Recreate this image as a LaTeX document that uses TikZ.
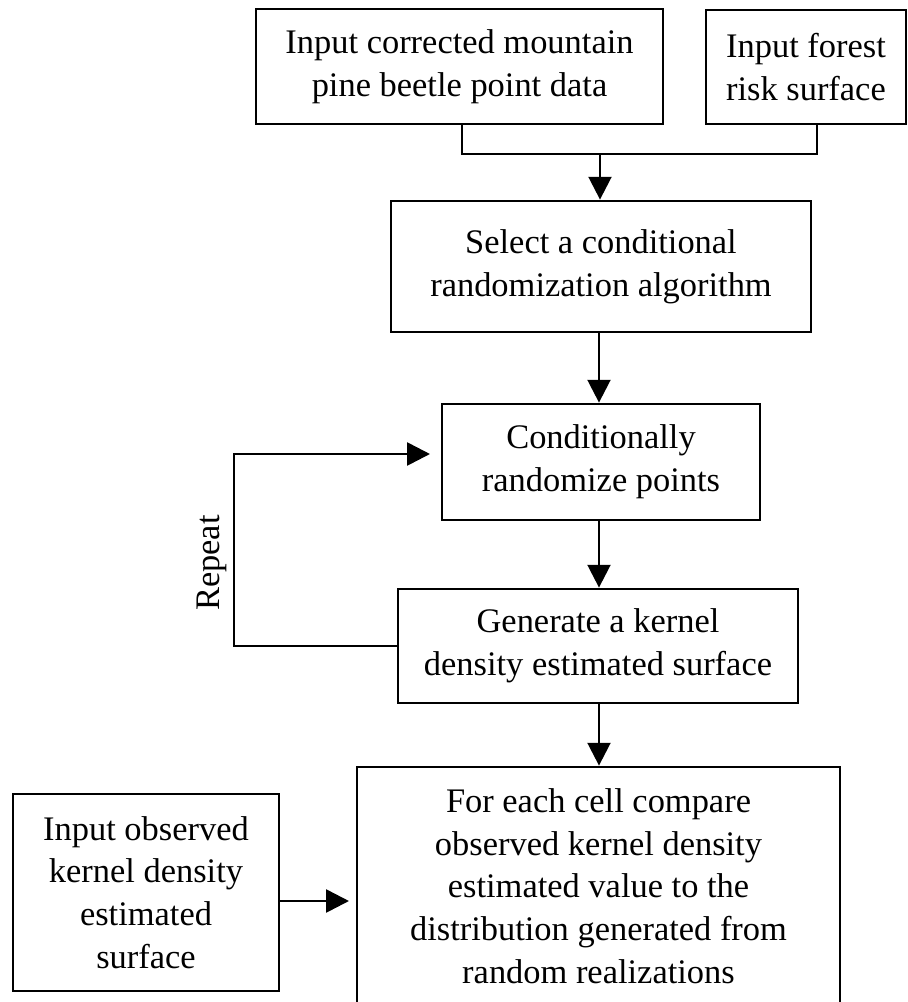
\documentclass[tikz,border=0pt]{standalone}
\usepackage{fontspec}
\setmainfont{Liberation Serif}
\usetikzlibrary{arrows.meta}

\begin{document}
\begin{tikzpicture}[
  x=0.02cm, y=-0.02cm,
  every node/.style={font=\fontsize{19.6pt}{24.3pt}\selectfont},
  stepbox/.style={draw, line width=1.6pt, rectangle, inner sep=0pt, align=center},
  flow/.style={line width=1.5pt, -{Triangle[length=13pt, width=13pt]}},
  link/.style={line width=1.5pt}
]
\useasboundingbox (0,0) rectangle (908,1002);

% process boxes
\node[stepbox, minimum width=407*0.02cm, minimum height=115*0.02cm] (b1) at (459.5,66.5)
  {Input corrected mountain\\pine beetle point data};
\node[stepbox, minimum width=200*0.02cm, minimum height=114*0.02cm] (b2) at (806,67)
  {Input forest\\risk surface};
\node[stepbox, minimum width=420*0.02cm, minimum height=131*0.02cm] (b3) at (601,266.5)
  {Select a conditional\\randomization algorithm};
\node[stepbox, minimum width=318*0.02cm, minimum height=116*0.02cm] (b4) at (601,462)
  {Conditionally\\randomize points};
\node[stepbox, minimum width=400*0.02cm, minimum height=114*0.02cm] (b5) at (598,646)
  {Generate a kernel\\density estimated surface};
\node[stepbox, minimum width=483*0.02cm, minimum height=238*0.02cm] (b6) at (598.5,886)
  {For each cell compare\\observed kernel density\\estimated value to the\\distribution generated from\\random realizations};
\node[stepbox, minimum width=266*0.02cm, minimum height=197*0.02cm] (b7) at (146,892.5)
  {Input observed\\kernel density\\estimated\\surface};

% loop label
\node[rotate=90] (rep) at (212,563) {Repeat};

% helper points
\coordinate (axis) at (599,0);
\coordinate (join) at (600,154);
\coordinate (leftdrop) at (462,0);
\coordinate (rightdrop) at (817,0);
\coordinate (loopcorner) at (234,646);
\coordinate (looptip) at (430,454);
\coordinate (sidetip) at (349,901);

% the two inputs merge into one arrow
\draw[link] (b1.south -| leftdrop) |- (join) -| (b2.south -| rightdrop);
\draw[flow] (join) -- (join |- b3.north);

% main chain
\draw[flow] (b3.south -| axis) -- (b4.north -| axis);
\draw[flow] (b4.south -| axis) -- (b5.north -| axis);
\draw[flow] (b5.south -| axis) -- (b6.north -| axis);

% repeat loop
\draw[flow] (b5.west) -- (loopcorner) |- (looptip);

% observed surface input
\draw[flow] (b7.east |- sidetip) -- (sidetip);
\end{tikzpicture}
\end{document}
